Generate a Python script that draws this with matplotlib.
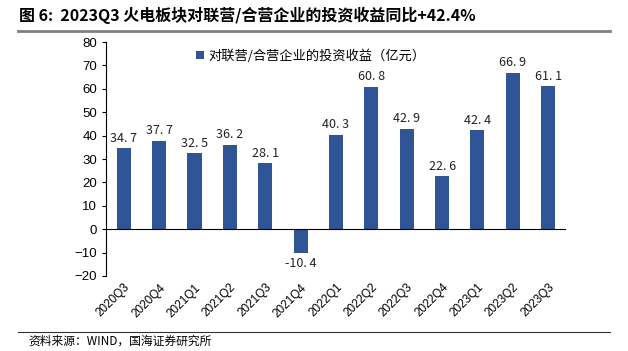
import matplotlib.pyplot as plt
from matplotlib.lines import Line2D

plt.rcParams['font.family'] = ['Noto Sans CJK SC', 'DejaVu Sans']

quarters = ["2020Q3", "2020Q4", "2021Q1", "2021Q2", "2021Q3", "2021Q4", "2022Q1",
            "2022Q2", "2022Q3", "2022Q4", "2023Q1", "2023Q2", "2023Q3"]
income = [34.7, 37.7, 32.5, 36.2, 28.1, -10.4, 40.3, 60.8, 42.9, 22.6, 42.4, 66.9, 61.1]
series_name = "对联营/合营企业的投资收益（亿元）"

bar_color = "#2F5597"

fig = plt.figure(figsize=(6.28, 3.51), dpi=100)
ax = fig.add_axes([0.169, 0.214, 0.732, 0.666])

x = range(len(quarters))
ax.bar(x, income, width=0.4, color=bar_color, label=series_name, zorder=2)

for i, v in zip(x, income):
    off = 1.5 if v >= 0 else -1.5
    ax.text(i, v + off, f"{v:.1f}".replace(".", ". "), ha="center",
            va="bottom" if v >= 0 else "top", fontsize=9, color="#222222")

ax.set_ylim(-20, 80)
ax.set_yticks(range(-20, 81, 10))
ax.set_yticklabels([str(t).replace("-", "\u2212") for t in range(-20, 81, 10)],
                   family="Liberation Sans", fontsize=9.5)
ax.set_xlim(-0.5, len(quarters) - 0.5)
ax.set_xticks(list(x))
ax.set_xticklabels(quarters, rotation=45, ha="right", rotation_mode="anchor",
                   fontsize=8.5, family="Liberation Sans")
ax.tick_params(axis="x", length=0, pad=4)
ax.tick_params(axis="y", direction="out", length=3, width=0.8)

for s in ["top", "right", "bottom"]:
    ax.spines[s].set_visible(False)
ax.spines["left"].set_linewidth(0.8)
ax.axhline(0, color="black", lw=0.8, zorder=3)

ax.legend(loc="upper left", bbox_to_anchor=(0.17, 1.02), frameon=False,
          fontsize=9.5, handlelength=0.6, handleheight=0.6, handletextpad=0.3)

fig.text(0.03, 0.955, "图 6:  2023Q3 火电板块对联营/合营企业的投资收益同比+42.4%",
         fontsize=11.5, fontweight="bold", va="center")
fig.add_artist(Line2D([0.028, 0.972], [0.912, 0.912], color="#808080", lw=2))
fig.add_artist(Line2D([0.028, 0.972], [0.055, 0.055], color="#333333", lw=0.8))
fig.text(0.045, 0.028, "资料来源：WIND，国海证券研究所", fontsize=8.5, va="center")

plt.savefig("out.png", dpi=100)
